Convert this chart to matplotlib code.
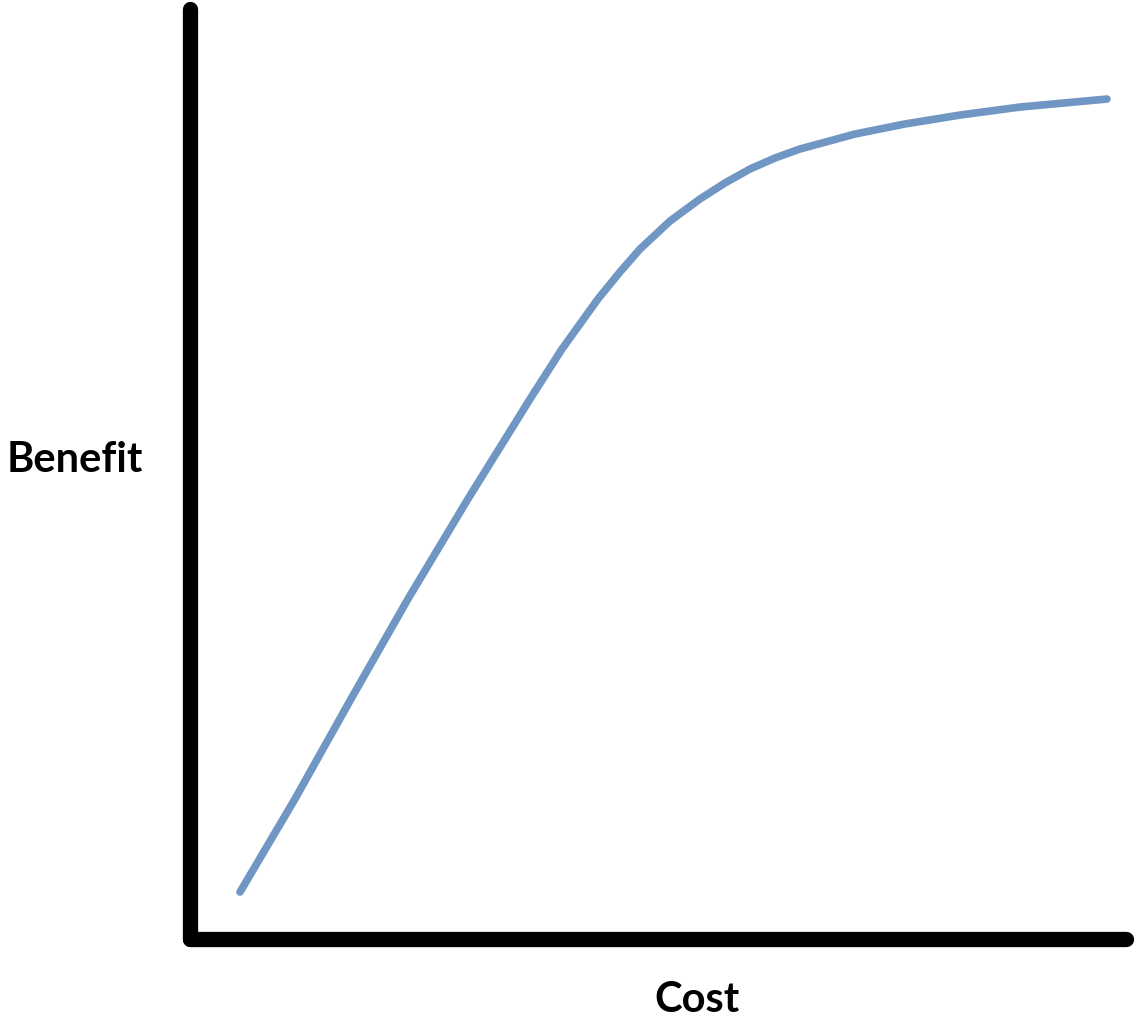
import matplotlib
matplotlib.use("Agg")
import matplotlib.pyplot as plt

# Data (Cost vs Benefit, arbitrary 0-100 units)
cost = [5.40, 11.27, 17.25, 23.34, 29.75, 36.38, 39.80, 43.64, 45.99, 48.13,
        51.34, 54.54, 57.21, 59.88, 62.55, 65.22, 71.10, 76.44, 82.32, 88.73, 98.02]
benefit = [5.05, 15.05, 25.79, 36.54, 47.29, 58.03, 63.41, 68.78, 71.68, 74.15,
           77.16, 79.53, 81.25, 82.75, 83.93, 84.90, 86.51, 87.59, 88.55, 89.41, 90.27]
x_label = "Cost"
y_label = "Benefit"

W, H, DPI = 1135, 1020, 100
fig = plt.figure(figsize=(W / DPI, H / DPI), dpi=DPI)
fig.patch.set_facecolor("white")

ax = fig.add_axes([189.5 / W, 80 / H, 936 / W, 930.5 / H])
ax.set_xlim(0, 100)
ax.set_ylim(0, 100)
ax.plot(cost, benefit, color="#7096C4", linewidth=5.5, solid_capstyle="round",
        solid_joinstyle="round")

for side in ("top", "right"):
    ax.spines[side].set_visible(False)
for side in ("left", "bottom"):
    ax.spines[side].set_linewidth(11)
    ax.spines[side].set_color("black")
    ax.spines[side].set_capstyle("round")
ax.set_xticks([])
ax.set_yticks([])

fig.text(75 / W, 1 - 460 / H, y_label, fontsize=30, fontweight="bold",
         family=["Lato", "DejaVu Sans"], ha="center", va="center")
fig.text(697 / W, 1 - 1000 / H, x_label, fontsize=30, fontweight="bold",
         family=["Lato", "DejaVu Sans"], ha="center", va="center")

fig.savefig("out.png", dpi=DPI, facecolor="white")
